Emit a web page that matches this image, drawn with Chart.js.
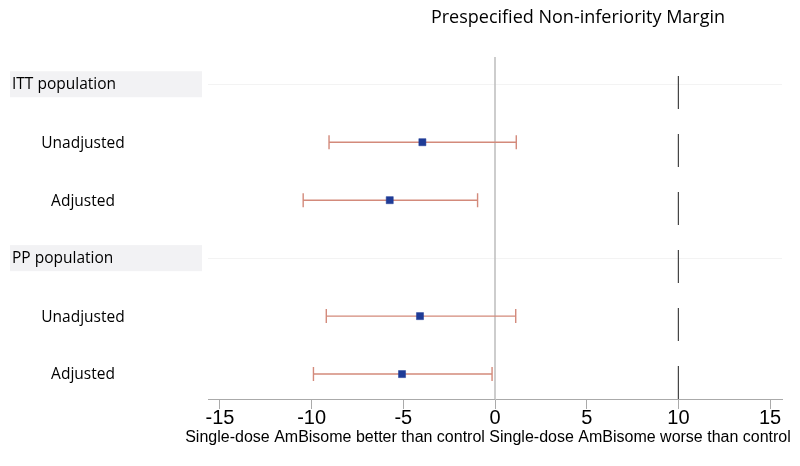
<!DOCTYPE html>
<html>
<head>
<meta charset="utf-8">
<script src="https://cdn.jsdelivr.net/npm/chart.js@4.4.1/dist/chart.umd.min.js"></script>
<style>
html,body{margin:0;padding:0;background:#fff;}
#wrap{width:800px;height:466px;position:relative;}
</style>
</head>
<body>
<div id="wrap"><canvas id="c" width="800" height="466"></canvas></div>
<script>
// ---- data ----
const rowLabels = ["ITT population", "Unadjusted", "Adjusted", "PP population", "Unadjusted", "Adjusted"];
const rowIsHeader = [true, false, false, true, false, false];
const estimates = [null, -3.96, -5.74, null, -4.09, -5.07];
const lowerCI   = [null, -9.05, -10.46, null, -9.20, -9.90];
const upperCI   = [null, 1.16, -0.95, null, 1.13, -0.16];
const xTicks = [-15, -10, -5, 0, 5, 10, 15];
const marginValue = 10;
const titleText = "Prespecified Non-inferiority Margin";
const xAxisTitle = "Single-dose AmBisome better than control Single-dose AmBisome worse than control";

const points = [];
estimates.forEach((v, i) => { if (v !== null) points.push({x: v, y: i, lo: lowerCI[i], hi: upperCI[i]}); });

const forestPlugin = {
  id: 'forest',
  beforeDatasetsDraw(chart) {
    const ctx = chart.ctx, xs = chart.scales.x, ys = chart.scales.y, ca = chart.chartArea;
    ctx.save();
    rowIsHeader.forEach((h, i) => {
      if (!h) return;
      const y = Math.round(ys.getPixelForValue(i)) + 0.5;
      ctx.strokeStyle = '#f3f3f3';
      ctx.lineWidth = 1;
      ctx.beginPath(); ctx.moveTo(ca.left, y); ctx.lineTo(ca.right, y); ctx.stroke();
    });
    const x0 = xs.getPixelForValue(0);
    ctx.strokeStyle = '#bdbdbd';
    ctx.lineWidth = 1.5;
    ctx.beginPath(); ctx.moveTo(x0, ca.top); ctx.lineTo(x0, ca.bottom); ctx.stroke();
    const xm = xs.getPixelForValue(marginValue);
    ctx.strokeStyle = '#444';
    ctx.lineWidth = 1.2;
    ctx.setLineDash([33, 25]);
    ctx.beginPath(); ctx.moveTo(xm, ca.bottom); ctx.lineTo(xm, ca.top); ctx.stroke();
    ctx.setLineDash([]);
    ctx.strokeStyle = '#d38a7b';
    ctx.lineWidth = 1.4;
    points.forEach(p => {
      const y = ys.getPixelForValue(p.y);
      const xl = xs.getPixelForValue(p.lo), xh = xs.getPixelForValue(p.hi);
      ctx.beginPath();
      ctx.moveTo(xl, y); ctx.lineTo(xh, y);
      ctx.moveTo(xl, y - 7); ctx.lineTo(xl, y + 7);
      ctx.moveTo(xh, y - 7); ctx.lineTo(xh, y + 7);
      ctx.stroke();
    });
    ctx.restore();
  },
  afterDraw(chart) {
    const ctx = chart.ctx, ys = chart.scales.y;
    ctx.save();
    ctx.textBaseline = 'middle';
    rowLabels.forEach((lab, i) => {
      const y = ys.getPixelForValue(i);
      if (rowIsHeader[i]) {
        ctx.fillStyle = '#f2f2f4';
        ctx.fillRect(10, y - 13, 192, 26);
        ctx.fillStyle = '#000';
        ctx.font = '15.5px "Open Sans"';
        ctx.textAlign = 'left';
        ctx.fillText(lab, 12, y);
      } else {
        ctx.fillStyle = '#000';
        ctx.font = '15.5px "Open Sans"';
        ctx.textAlign = 'center';
        ctx.fillText(lab, 83, y + 1);
      }
    });
    ctx.font = '18px "Open Sans"';
    ctx.textAlign = 'center';
    ctx.fillStyle = '#000';
    ctx.fillText(titleText, 578, 18);
    // x-axis title
    ctx.font = '16px "Liberation Sans", Arial';
    ctx.fillText(xAxisTitle, 488, 438);
    ctx.restore();
  }
};

new Chart(document.getElementById('c'), {
  type: 'scatter',
  data: {
    datasets: [{
      data: points,
      pointStyle: 'rect',
      pointRadius: 5,
      pointHoverRadius: 5,
      backgroundColor: '#1f3b96',
      borderColor: '#1f3b96',
      borderWidth: 0.5
    }]
  },
  options: {
    responsive: false,
    animation: false,
    layout: { padding: { left: 208, right: 18, top: 57, bottom: 0 } },
    plugins: { legend: { display: false }, tooltip: { enabled: false } },
    scales: {
      x: {
        type: 'linear',
        min: -15.65, max: 15.65,
        afterBuildTicks: (s) => { s.ticks = xTicks.map(v => ({value: v})); },
        afterFit: (s) => { s.height = 67; },
        ticks: { includeBounds: false, color: '#000', padding: -3,
                 font: { family: '"Liberation Sans", Arial', size: 20 } },
        grid: { display: true, drawOnChartArea: false, drawTicks: true, tickLength: 10, color: '#aaa', lineWidth: 1 },
        border: { display: true, color: '#aaa', width: 1 },
        title: { display: false }
      },
      y: {
        type: 'linear',
        min: -0.47, max: 5.43,
        reverse: true,
        display: false
      }
    }
  },
  plugins: [forestPlugin]
});
</script>
</body>
</html>
